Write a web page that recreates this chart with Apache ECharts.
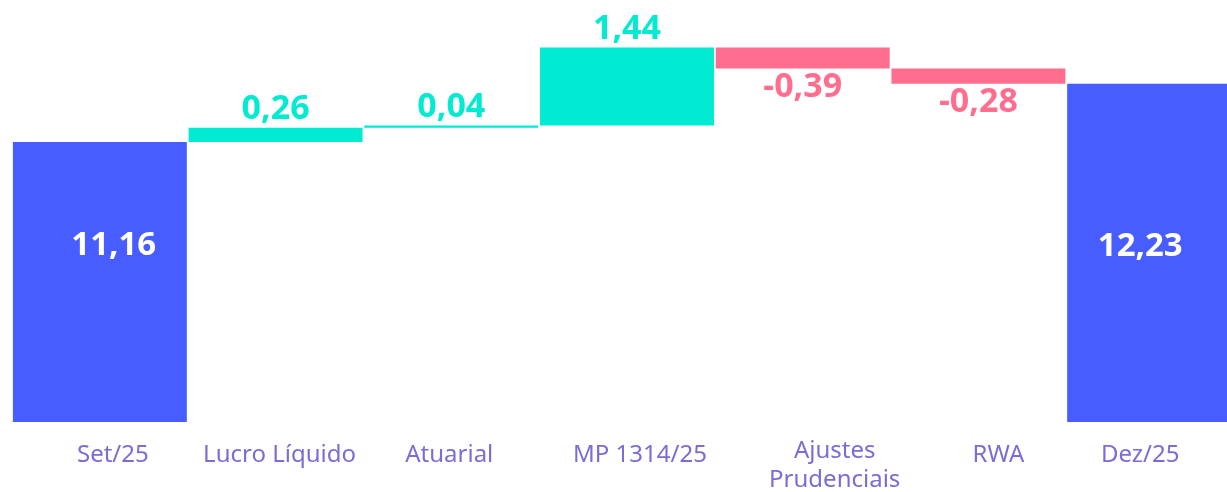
<!DOCTYPE html>
<html>
<head>
<meta charset="utf-8">
<script src="https://cdn.jsdelivr.net/npm/echarts@6/dist/echarts.min.js"></script>
<style>
  html, body, #main { width: 100%; height: 100%; margin: 0; background: #fff; }
</style>
</head>
<body>
<div id="main"></div>
<script>
// categories and values
var categories = ['Set/25', 'Lucro Líquido', 'Atuarial', 'MP 1314/25', 'Ajustes\nPrudenciais', 'RWA', 'Dez/25'];
var totals = [11.16, '-', '-', '-', '-', '-', 12.23];
var rises = ['-', 0.26, 0.04, 1.44, '-', '-', '-'];
var falls = ['-', '-', '-', '-', 0.39, 0.28, '-'];

// invisible base for the floating steps, worked out from the values
var base = [];
var running = 0;
for (var i = 0; i < categories.length; i++) {
    if (totals[i] !== '-') {
        running = totals[i];
        base.push('-');
    } else if (rises[i] !== '-') {
        base.push(running);
        running = +(running + rises[i]).toFixed(2);
    } else {
        running = +(running - falls[i]).toFixed(2);
        base.push(running);
    }
}

var BLUE = '#485DFF', TEAL = '#00EBD1', PINK = '#FF6E8E', PURPLE = '#7A6DD6';
function fmt(v) { return v.toFixed(2).replace('.', ','); }

// small nudges so the axis texts sit where the original had them
var labelShift = [13, 4, -2, 13, 32, 20, -14];
var rich = {};
labelShift.forEach(function (s, i) {
    var twoLines = categories[i].indexOf('\n') >= 0;
    rich['c' + i] = {
        fontFamily: 'Noto Sans', fontSize: 24, color: PURPLE, lineHeight: twoLines ? 29 : 30,
        padding: [twoLines ? 0 : 6, s < 0 ? -2 * s : 0, 0, s > 0 ? 2 * s : 0]
    };
});

var myChart = echarts.init(document.getElementById('main'));
myChart.setOption({
    animation: false,
    grid: { left: 12, right: -15, top: 42, bottom: 70, outerBoundsMode: 'none', containLabel: false },
    xAxis: {
        type: 'category',
        data: categories,
        axisLine: { show: false },
        axisTick: { show: false },
        axisLabel: {
            interval: 0,
            margin: 15,
            formatter: function (v, idx) {
                return v.split('\n').map(function (line) {
                    return '{c' + idx + '|' + line + '}';
                }).join('\n');
            },
            rich: rich
        }
    },
    yAxis: {
        type: 'value',
        min: 6,
        max: 13,
        show: false,
        splitLine: { show: false }
    },
    series: [
        {
            type: 'bar', stack: 'w', barCategoryGap: '1%',
            data: base,
            itemStyle: { color: 'transparent' },
            silent: true
        },
        {
            type: 'bar', stack: 'w',
            data: totals.map(function (v, i) {
                if (v === '-') return v;
                return {
                    value: v,
                    label: { position: i === 0 ? ['58%', '37%'] : ['42%', '48%'] }
                };
            }),
            itemStyle: { color: BLUE },
            label: {
                show: true, align: 'center', verticalAlign: 'middle',
                color: '#fff', fontFamily: 'Noto Sans', fontWeight: 'bold', fontSize: 33,
                formatter: function (p) { return fmt(p.value); }
            }
        },
        {
            type: 'bar', stack: 'w',
            data: rises,
            itemStyle: { color: TEAL },
            label: {
                show: true, position: 'top', distance: 1,
                color: TEAL, fontFamily: 'Noto Sans', fontWeight: 'bold', fontSize: 34,
                formatter: function (p) { return fmt(p.value); }
            }
        },
        {
            type: 'bar', stack: 'w',
            data: falls,
            itemStyle: { color: PINK },
            label: {
                show: true, position: 'bottom', distance: 2,
                color: PINK, fontFamily: 'Noto Sans', fontWeight: 'bold', fontSize: 34,
                formatter: function (p) { return '-' + fmt(p.value); }
            }
        }
    ]
});
</script>
</body>
</html>
